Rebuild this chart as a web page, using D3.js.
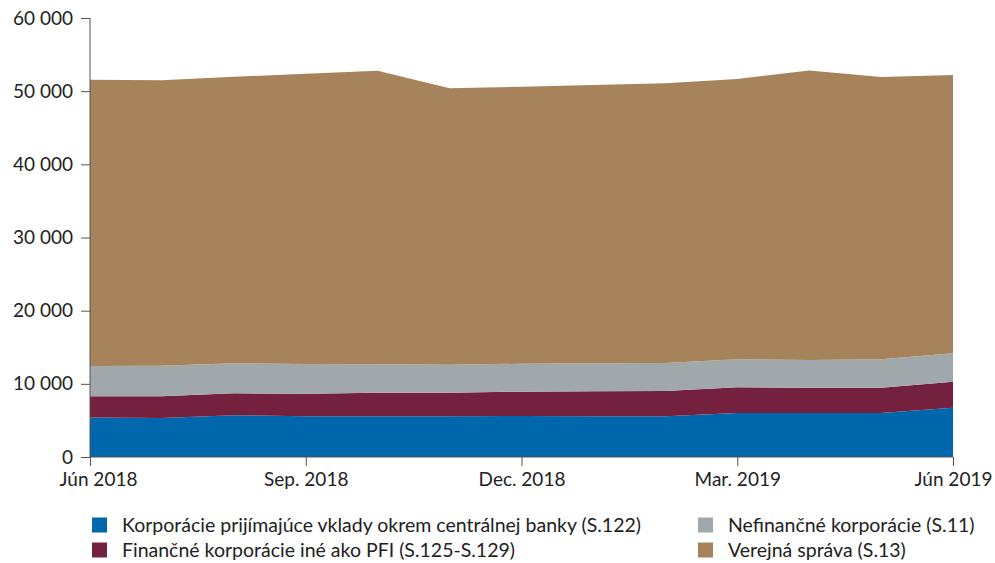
<!DOCTYPE html>
<html><head><meta charset="utf-8">
<script src="https://cdn.jsdelivr.net/npm/d3@7"></script>
<style>
body{margin:0;background:#fff;}
text{font-family:Lato,"Open Sans",sans-serif;fill:#222;}
</style></head>
<body><svg id="c" width="995" height="563"></svg>
<script>
const months = ["2018-06","2018-07","2018-08","2018-09","2018-10","2018-11","2018-12","2019-01","2019-02","2019-03","2019-04","2019-05","2019-06"];
const tickLabels = ["Jún 2018","Sep. 2018","Dec. 2018","Mar. 2019","Jún 2019"];
const seriesNames = ["Korporácie prijímajúce vklady okrem centrálnej banky (S.122)","Finančné korporácie iné ako PFI (S.125-S.129)","Nefinančné korporácie (S.11)","Verejná správa (S.13)"];
const s122 = [5400,5330,5700,5560,5560,5560,5600,5560,5560,6010,6010,6000,6740];
const s125 = [2890,2960,3000,3090,3230,3230,3330,3410,3460,3510,3470,3480,3560];
const s11  = [4150,4190,4100,4060,3870,3830,3820,3830,3830,3830,3780,3870,3870];
const s13  = [39120,39020,39170,39670,40140,37770,37860,38040,38220,38310,39580,38580,38030];
const colors = ["#0067ac","#74213f","#a1a8ab","#a6835a"];
const yTicks = [0,10000,20000,30000,40000,50000,60000];

const svg = d3.select("#c");
const x = d3.scalePoint().domain(months).range([90,953]);
const y = d3.scaleLinear().domain([0,60000]).range([457,18]);
const rows = months.map((m,i)=>({m, a:s122[i], b:s125[i], c:s11[i], d:s13[i]}));
const stack = d3.stack().keys(["a","b","c","d"])(rows);
const area = d3.area().x(d=>x(d.data.m)).y0(d=>y(d[0])).y1(d=>y(d[1]));
svg.append("g").selectAll("path").data(stack).join("path")
  .attr("d",area).attr("fill",(d,i)=>colors[i]);

const fmt = v => d3.format(",")(v).replace(/,/g," ");
const ya = svg.append("g").attr("transform","translate(90,0)")
  .call(d3.axisLeft(y).tickValues(yTicks).tickFormat(fmt).tickSize(9).tickPadding(8));
ya.select(".domain").attr("stroke","#555").attr("d","M0,18V457");
ya.selectAll(".tick line").attr("stroke","#555");
ya.selectAll("text").style("font-size","19px").attr("fill","#222");

const tickMonths = [months[0],months[3],months[6],months[9],months[12]];
const xa = svg.append("g").attr("transform","translate(0,457)")
  .call(d3.axisBottom(x).tickValues(tickMonths).tickFormat((d,i)=>tickLabels[i]).tickSize(9).tickPadding(7));
xa.select(".domain").attr("stroke","#555").attr("d","M90,0H953");
xa.selectAll(".tick line").attr("stroke","#555");
xa.selectAll("text").style("font-size","19px").attr("fill","#222");
xa.selectAll(".tick").filter((d,i)=>i===0).select("text").attr("x",8);

const legPos = [[92,525],[92,550],[698,525],[698,550]];
const lg = svg.append("g");
seriesNames.forEach((n,i)=>{
  const [lx,ly]=legPos[i];
  lg.append("rect").attr("x",lx).attr("y",ly-7.5).attr("width",15).attr("height",15).attr("fill",colors[i]);
  lg.append("text").attr("x",lx+30).attr("y",ly).attr("dy","0.35em").style("font-size","19.5px").text(n);
});
</script></body></html>
